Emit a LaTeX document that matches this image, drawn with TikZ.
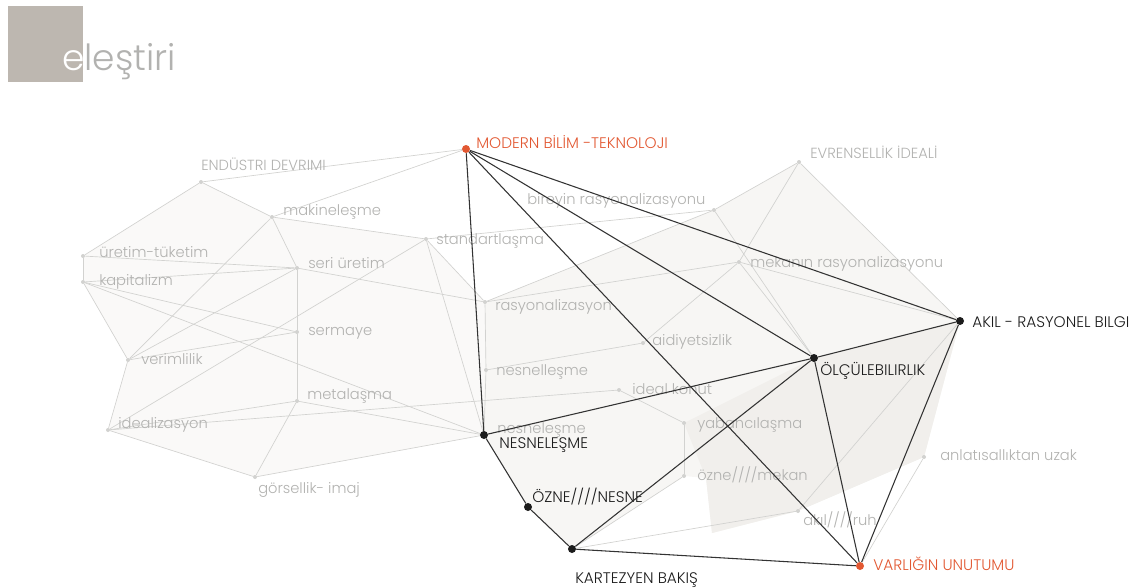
\documentclass[tikz,border=0pt]{standalone}
\usepackage{fontspec}
\setmainfont{Poppins}[UprightFont=* Light]
\usetikzlibrary{backgrounds}

\definecolor{vermilion}{RGB}{226,88,50}
\definecolor{ash}{RGB}{210,210,208}
\definecolor{fog}{RGB}{178,178,176}
\definecolor{ink}{RGB}{28,28,28}
\definecolor{taupe}{RGB}{189,183,176}
\definecolor{mist}{RGB}{250,249,248}
\definecolor{haze}{RGB}{247,246,244}
\definecolor{smoke}{RGB}{241,239,236}

\begin{document}
\begin{tikzpicture}[x=0.75pt,y=-0.75pt,
  dot/.style={circle,fill=ash,inner sep=0,minimum size=3pt},
  bigdot/.style={circle,fill=ink,inner sep=0,minimum size=6pt},
  hotdot/.style={bigdot,fill=vermilion},
  lbl/.style={anchor=base west,inner sep=0,text=fog,font=\fontsize{11}{13}\selectfont},
  keylbl/.style={lbl,text=ink,font=\fontsize{11.5}{13}\selectfont},
  hotlbl/.style={keylbl,text=vermilion},
  faint/.style={draw=ash,line width=0.5pt},
  bold/.style={draw=ink!90,line width=0.8pt}]
\useasboundingbox (0,0) rectangle (1146,587);

% title
\fill[taupe] (8,6) rectangle (83,82);
\node[anchor=base west,inner sep=0,font=\fontsize{27}{32}\selectfont] (title) at (62,70)
  {\textcolor{white}{e}\textcolor{fog}{leştiri}};

% light nodes
\foreach \nm/\x/\y/\tx/\ty/\txt in {
  endustri/201/182/201/170/ENDÜSTRI DEVRIMI,
  makine/272/217/283/215/makineleşme,
  standart/426/239/436/244/standartlaşma,
  uretim/83/256/99/257/üretim-tüketim,
  kapital/83/282/99/285/kapitalizm,
  seri/297/268/308/268/seri üretim,
  sermaye/297/332/308/335/sermaye,
  verim/128/360/141/364/verimlilik,
  metal/297/401/307/399/metalaşma,
  idealiz/108/430/118/428/idealizasyon,
  gorsel/255/477/258/493/görsellik- imaj,
  rasyon/485/302/495/310/rasyonalizasyon,
  nesnel/486/370/496/375/nesnelleşme,
  aidiyet/643/343/652/345/aidiyetsizlik,
  konut/619/390/632/394/ideal konut,
  yabanci/684/423/697/428/yabancılaşma,
  oznemekan/684/476/697/480/{özne////mekan},
  akilruh/798/511/803/525/{akıl////ruh},
  bireyin/714/210/527/204/bireyin rasyonalizasyonu,
  mekan/739/262/750/267/mekanın rasyonalizasyonu,
  evren/799/162/810/158/EVRENSELLİK İDEALİ,
  anlati/924/457/940/460/anlatısallıktan uzak}
  {\node[dot] (\nm) at (\x,\y) {};
   \node[lbl] (\nm-t) at (\tx,\ty) {\txt};}

% key nodes
\node[hotdot] (modern) at (466,149) {};
\node[hotlbl] (modern-t) at (476,148) {MODERN BİLİM -TEKNOLOJI};
\node[bigdot] (nesne) at (484,435) {};
\node[lbl] (nesne-f) at (497,433) {nesneleşme};
\node[keylbl] (nesne-t) at (499,448) {NESNELEŞME};
\node[bigdot] (ozne) at (528,507) {};
\node[keylbl] (ozne-t) at (532,502) {ÖZNE////NESNE};
\node[bigdot] (kartezyen) at (572,549) {};
\node[keylbl] (kartezyen-t) at (575,583) {KARTEZYEN BAKIŞ};
\node[bigdot] (olcu) at (814,358) {};
\node[keylbl] (olcu-t) at (820,375) {ÖLÇÜLEBILIRLIK};
\node[bigdot] (akil) at (960,321) {};
\node[keylbl] (akil-t) at (972,327) {AKIL - RASYONEL BILGI};
\node[hotdot] (varlik) at (860,566) {};
\node[hotlbl] (varlik-t) at (873,570) {VARLIĞIN UNUTUMU};

\begin{scope}[on background layer]
  % shaded fields
  \fill[mist] (uretim.center) -- (endustri.center) -- (makine.center) -- (standart.center)
    -- (rasyon.center) -- (nesne.center) -- (gorsel.center) -- (idealiz.center)
    -- (verim.center) -- (kapital.center) -- cycle;
  \fill[haze] (rasyon.center) -- (bireyin.center) -- (evren.center) -- (akil.center)
    -- (anlati.center) -- (akilruh.center) -- (712,533) -- (706,478) -- (oznemekan.center)
    -- (kartezyen.center) -- (ozne.center) -- (nesne.center) -- cycle;
  \fill[smoke] (olcu.center) -- (akil.center) -- (anlati.center) -- (akilruh.center)
    -- (712,533) -- (706,478) -- (yabanci.center) -- cycle;
  % faint web
  \foreach \a/\b in {endustri/modern,makine/modern,endustri/uretim,endustri/makine,
    makine/seri,makine/standart,uretim/kapital,uretim/seri,kapital/seri,
    kapital/sermaye,kapital/verim,kapital/nesne,verim/makine,verim/seri,
    verim/sermaye,verim/idealiz,seri/sermaye,sermaye/metal,seri/rasyon,
    standart/rasyon,standart/nesne,standart/idealiz,standart/bireyin,
    idealiz/metal,idealiz/konut,idealiz/gorsel,gorsel/metal,gorsel/nesne,
    metal/nesne,rasyon/nesnel,nesnel/nesne,rasyon/bireyin,rasyon/mekan,
    bireyin/evren,bireyin/olcu,evren/mekan,evren/akil,mekan/aidiyet,
    mekan/olcu,mekan/akil,aidiyet/nesnel,konut/yabanci,yabanci/oznemekan,
    oznemekan/kartezyen,akilruh/kartezyen,akilruh/akil,anlati/varlik}
    \draw[faint] (\a) -- (\b);
\end{scope}

% main web
\foreach \a/\b in {modern/nesne,modern/varlik,modern/olcu,modern/akil,
  nesne/olcu,nesne/ozne,ozne/kartezyen,kartezyen/olcu,kartezyen/varlik,
  olcu/akil,olcu/varlik,akil/varlik}
  \draw[bold] (\a) -- (\b);
\end{tikzpicture}
\end{document}
